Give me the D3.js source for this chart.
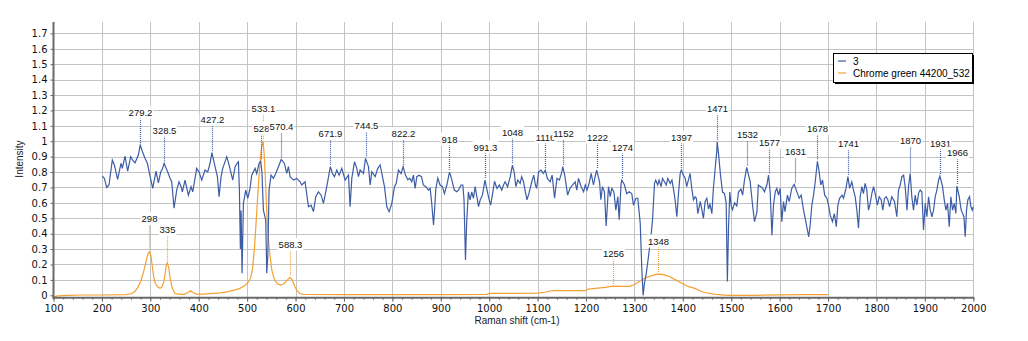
<!DOCTYPE html>
<html>
<head>
<meta charset="utf-8">
<script src="https://cdn.jsdelivr.net/npm/d3@7"></script>
<style>
  body { margin: 0; background: #fff; }
  svg { font-family: "Liberation Sans", Arial, sans-serif; }
</style>
</head>
<body>
<div id="chart"></div>
<script>
// Series 3 (blue): [Raman shift, intensity]
const seriesBlue = [
  [200.9,0.774],[205,0.76],[209.8,0.70],[214.6,0.716],[221.5,0.878],[225.7,0.846],[232.5,0.753],[239.4,0.857],
  [242.2,0.824],[247.7,0.904],[253.2,0.806],[259.4,0.90],[264,0.875],[268.4,0.86],[275.3,0.91],[279.2,0.975],
  [284,0.93],[289,0.89],[293.9,0.857],[299,0.78],[304.9,0.694],[311.8,0.806],[316.6,0.73],[321.4,0.80],
  [325,0.82],[328.5,0.857],[335.9,0.80],[340.7,0.76],[344.2,0.737],[349,0.565],[354.5,0.683],[359.3,0.737],
  [363.5,0.705],[366.2,0.672],[371.7,0.748],[378.6,0.65],[384.1,0.705],[387.6,0.672],[395.8,0.824],[400.7,0.80],
  [406.2,0.748],[413,0.813],[418.6,0.80],[423.4,0.857],[427.2,0.926],[433.7,0.835],[438.6,0.77],[442,0.64],
  [446.1,0.77],[449.6,0.824],[457.9,0.90],[462.7,0.846],[470.2,0.748],[475.1,0.835],[480,0.86],[482,0.867],
  [484,0.683],[486,0.3],[487.5,0.55],[489.5,0.143],[492.3,0.597],[497.1,0.683],[501.3,0.63],[506,0.694],
  [509.5,0.78],[516.4,0.824],[519.8,0.79],[524.6,0.856],[528,0.87],[530.5,0.80],[533.6,0.553],[538.4,0.489],
  [540.5,0.143],[542.6,0.251],[545.3,0.683],[549.4,0.78],[554.3,0.759],[559.1,0.791],[564.6,0.835],[570.4,0.882],
  [577,0.856],[581.8,0.791],[585.3,0.835],[588.7,0.77],[595.6,0.748],[602.5,0.759],[609.4,0.737],[612.8,0.716],
  [619.7,0.737],[626.6,0.575],[632.1,0.585],[636.9,0.543],[641.8,0.64],[647.3,0.672],[652.8,0.65],[657.6,0.597],
  [664.5,0.705],[671.9,0.835],[676.2,0.791],[680.4,0.77],[685.2,0.813],[690,0.78],[695.5,0.824],[702.4,0.748],
  [709.3,0.78],[712.7,0.575],[716.2,0.759],[721.7,0.867],[726.5,0.824],[730,0.77],[733.4,0.813],[740.3,0.791],
  [744.5,0.889],[750.6,0.835],[754.1,0.716],[757.5,0.802],[764.4,0.77],[769.9,0.824],[774.7,0.846],[778.2,0.791],
  [783.7,0.705],[788.5,0.575],[793.3,0.543],[798.9,0.597],[804.4,0.705],[808,0.727],[812.6,0.813],[818,0.79],
  [822.2,0.835],[827,0.78],[832,0.75],[836,0.76],[840,0.737],[843.5,0.78],[847,0.694],[850.5,0.77],
  [855.3,0.78],[860,0.77],[864,0.716],[869,0.705],[874.5,0.683],[878,0.694],[881,0.607],[885,0.456],
  [887.3,0.56],[889.7,0.69],[893.8,0.76],[898.5,0.716],[903.4,0.705],[907.5,0.66],[912.5,0.716],[918,0.80],
  [922,0.759],[928,0.683],[933,0.672],[936.5,0.683],[942,0.716],[945.5,0.716],[948,0.62],[951,0.229],
  [953.7,0.49],[957,0.672],[960.5,0.62],[964,0.672],[967.5,0.63],[971,0.705],[974.5,0.64],[978,0.575],
  [981.5,0.62],[986,0.65],[991.3,0.748],[995.5,0.683],[1000,0.62],[1003,0.585],[1007,0.66],[1011,0.74],
  [1016,0.694],[1021,0.716],[1026,0.683],[1029.5,0.716],[1033,0.737],[1038,0.705],[1043.5,0.77],[1048,0.845],
  [1052,0.791],[1055,0.705],[1059,0.748],[1064,0.727],[1067,0.77],[1071,0.737],[1074,0.683],[1078,0.62],
  [1082,0.66],[1088,0.737],[1092,0.78],[1095.5,0.716],[1098,0.694],[1102,0.80],[1107,0.813],[1112,0.791],
  [1116,0.813],[1120,0.759],[1126,0.737],[1130,0.78],[1135,0.63],[1140,0.759],[1145,0.748],[1150,0.80],
  [1152,0.835],[1156,0.78],[1162,0.65],[1167,0.694],[1172,0.716],[1177.5,0.737],[1181,0.683],[1184.4,0.759],
  [1190,0.705],[1195,0.672],[1198.5,0.716],[1202,0.683],[1206.4,0.727],[1210.6,0.791],[1215.4,0.716],[1218.8,0.77],
  [1222,0.813],[1228,0.737],[1230.6,0.62],[1234,0.705],[1238,0.672],[1241.6,0.45],[1246.4,0.705],[1250,0.64],
  [1253.3,0.694],[1257.5,0.672],[1261.6,0.553],[1265.7,0.64],[1268.5,0.49],[1272.5,0.727],[1274,0.748],[1279.5,0.716],
  [1284,0.66],[1289,0.672],[1294.5,0.66],[1298,0.585],[1303,0.63],[1307,0.63],[1312,0.467],[1315.3,0.164],
  [1318,0.0],[1320.7,0.08],[1324,0.132],[1329,0.25],[1334,0.38],[1337.4,0.49],[1341.5,0.727],[1344,0.748],
  [1348,0.716],[1351,0.748],[1355,0.705],[1358,0.759],[1362,0.737],[1365.6,0.716],[1369,0.759],[1374,0.727],
  [1377.5,0.748],[1381,0.683],[1384,0.62],[1387.6,0.51],[1391,0.66],[1394.5,0.791],[1397,0.813],[1401,0.78],
  [1405,0.759],[1408,0.705],[1411.5,0.748],[1415,0.791],[1418.5,0.694],[1422,0.62],[1425.4,0.64],[1428,0.63],
  [1431,0.53],[1436,0.61],[1439,0.56],[1442.6,0.50],[1446,0.61],[1449.5,0.63],[1453,0.56],[1456,0.59],
  [1460,0.53],[1463,0.69],[1466.7,0.82],[1470,0.93],[1471,0.997],[1474,0.91],[1477.8,0.78],[1482,0.67],
  [1486,0.66],[1489.5,0.60],[1492,0.089],[1494.3,0.43],[1497,0.67],[1500,0.58],[1502.6,0.555],[1507,0.6],
  [1511.5,0.58],[1515,0.67],[1520,0.69],[1523.5,0.65],[1527.4,0.75],[1532,0.83],[1535.7,0.78],[1539,0.74],
  [1544,0.586],[1548,0.478],[1553,0.54],[1556,0.716],[1561,0.705],[1565,0.694],[1568.7,0.672],[1573.5,0.716],
  [1577,0.78],[1580.4,0.672],[1584,0.39],[1587.3,0.586],[1591,0.673],[1594.2,0.694],[1597.6,0.65],[1601,0.694],
  [1604.5,0.478],[1608,0.608],[1611,0.543],[1616,0.65],[1619.7,0.608],[1625,0.694],[1630,0.72],[1635.5,0.673],
  [1640.3,0.63],[1644.4,0.65],[1649,0.56],[1654,0.478],[1660,0.38],[1663,0.455],[1666.5,0.586],[1670,0.65],
  [1673.5,0.737],[1678,0.87],[1681.7,0.80],[1685,0.716],[1688.6,0.748],[1693,0.65],[1697.6,0.63],[1701,0.586],
  [1704.5,0.52],[1709,0.478],[1713,0.53],[1717,0.445],[1720.3,0.586],[1723.8,0.63],[1729,0.65],[1732,0.63],
  [1737,0.694],[1741,0.77],[1744.5,0.694],[1749,0.737],[1752.5,0.683],[1756,0.64],[1759.4,0.553],[1762.9,0.435],
  [1766.3,0.64],[1769.8,0.705],[1773,0.66],[1776.6,0.727],[1780,0.683],[1783.5,0.553],[1787,0.597],[1790.4,0.66],
  [1793.9,0.705],[1797.3,0.66],[1802,0.585],[1805.6,0.64],[1809.7,0.62],[1813,0.553],[1816.6,0.629],[1820,0.64],
  [1823.5,0.62],[1827,0.575],[1831.8,0.64],[1837.3,0.608],[1842,0.51],[1845.5,0.683],[1849,0.716],[1852.5,0.77],
  [1856,0.78],[1859.3,0.705],[1863,0.553],[1866.2,0.705],[1869.6,0.791],[1873,0.64],[1876.5,0.553],[1880,0.65],
  [1883.4,0.586],[1886.9,0.662],[1890.3,0.683],[1893.7,0.672],[1897.2,0.424],[1900.7,0.597],[1904.1,0.51],[1907.6,0.64],
  [1911,0.553],[1914.5,0.51],[1918,0.553],[1921.3,0.64],[1924.8,0.683],[1928.2,0.748],[1931,0.774],[1936.5,0.705],
  [1940,0.62],[1943.4,0.553],[1946.8,0.597],[1950.3,0.445],[1953.7,0.64],[1957.2,0.553],[1960.6,0.597],[1964,0.532],
  [1966,0.71],[1970.9,0.64],[1975,0.553],[1977.8,0.532],[1980.6,0.51],[1983.3,0.38],[1986,0.553],[1988.8,0.62],
  [1992.3,0.64],[1995,0.575],[1997.8,0.553],[2000,0.575]
];

// Chrome green 44200_532 (orange)
const seriesOrange = [
  [100,-0.012],[108,-0.004],[130,0.0],[160,0.002],[200,0.002],[250,0.004],[262,0.012],[268,0.024],
  [274,0.05],[280,0.09],[285,0.14],[289,0.19],[293,0.245],[296,0.273],[298,0.283],[301,0.26],
  [304,0.19],[307,0.12],[310,0.08],[315,0.055],[320,0.045],[324,0.055],[328,0.09],[331,0.15],
  [333,0.195],[335,0.211],[338,0.18],[341,0.11],[345,0.05],[351,0.012],[360,0.006],[370,0.006],
  [378,0.018],[383,0.03],[388,0.018],[395,0.008],[410,0.008],[430,0.012],[445,0.016],[461,0.024],
  [475,0.035],[485,0.045],[495,0.062],[502,0.085],[507,0.11],[511,0.17],[515,0.3],[518,0.45],
  [521,0.6],[524,0.75],[527,0.88],[530,0.96],[533.1,1.0],[535,0.92],[537.5,0.77],[540,0.58],
  [542,0.45],[546,0.29],[551,0.165],[556,0.105],[562,0.075],[569,0.066],[576,0.075],[582,0.095],
  [588.3,0.117],[593,0.1],[598,0.06],[603,0.03],[609,0.012],[616,0.006],[700,0.005],[800,0.005],
  [900,0.005],[995,0.006],[1000,0.012],[1050,0.013],[1100,0.014],[1115,0.02],[1125,0.028],[1136,0.03],
  [1198,0.03],[1205,0.04],[1219,0.045],[1240,0.052],[1256,0.06],[1275,0.058],[1290,0.058],[1300,0.07],
  [1310,0.09],[1322,0.112],[1336,0.128],[1348,0.138],[1358,0.136],[1370,0.125],[1385,0.1],[1400,0.075],
  [1412,0.056],[1425,0.045],[1436,0.028],[1446,0.018],[1467,0.006],[1494,0.0],[1550,0.0],[1600,0.003],
  [1650,0.004],[1700,0.004]
];

// Labelled peaks
const peaksBlue = [279.2, 328.5, 427.2, 528, 570.4, 671.9, 744.5, 822.2, 918, 991.3, 1048, 1116, 1152,
  1222, 1274, 1397, 1471, 1532, 1577, 1631, 1678, 1741, 1870, 1931, 1966];
const peaksOrange = [298, 335, 533.1, 588.3, 1256, 1348];

const seriesNames = ["3", "Chrome green 44200_532"];
const xTicks = d3.range(100, 2001, 100);
const xMinorTicks = d3.range(100, 2001, 20);
const yTicks = d3.range(0, 18).map(i => +(i / 10).toFixed(1));

// Layout
const W = 1028, H = 341;
const plotL = 53.5, plotR = 973.3, plotT = 22, plotB = 297.7;
const blue = "#3d5da6", orange = "#f5a033";

const svg = d3.select("#chart").append("svg")
    .attr("width", W)
    .attr("height", H);

const x = d3.scaleLinear().domain([100, 2000]).range([plotL, plotR]);
const y = d3.scaleLinear().domain([-0.0155, 1.774]).range([plotB, plotT]);

// Grid
const grid = svg.append("g").attr("stroke", "#c4c4c4").attr("stroke-width", 1);
grid.selectAll("line.v")
    .data(xTicks.filter(d => d > 100))
    .enter().append("line")
    .attr("x1", d => Math.round(x(d)) + 0.5).attr("x2", d => Math.round(x(d)) + 0.5)
    .attr("y1", plotT).attr("y2", plotB);
grid.selectAll("line.h")
    .data(yTicks.filter(d => d > 0))
    .enter().append("line")
    .attr("x1", plotL).attr("x2", plotR)
    .attr("y1", d => Math.round(y(d)) + 0.5).attr("y2", d => Math.round(y(d)) + 0.5);

// Series lines
const line = d3.line().x(d => x(d[0])).y(d => y(d[1]));
svg.append("path").datum(seriesOrange)
    .attr("fill", "none").attr("stroke", orange).attr("stroke-width", 1.2).attr("d", line);
svg.append("path").datum(seriesBlue)
    .attr("fill", "none").attr("stroke", blue).attr("stroke-width", 1.2).attr("d", line);

// Axes
const xAxis = svg.append("g")
    .attr("transform", `translate(0,${plotB})`)
    .call(d3.axisBottom(x).tickValues(xTicks).tickSize(4).tickPadding(3).tickFormat(d3.format("d")));
svg.append("g")
    .attr("transform", `translate(0,${plotB})`)
    .call(d3.axisBottom(x).tickValues(xMinorTicks).tickSize(2).tickFormat(""))
    .call(g => g.select(".domain").remove())
    .selectAll("line").attr("stroke", "#666");
const yAxis = svg.append("g")
    .attr("transform", `translate(${plotL},0)`)
    .call(d3.axisLeft(y).tickValues(yTicks).tickSize(3).tickPadding(3).tickFormat(d3.format("~g")));

[xAxis, yAxis].forEach(g => {
    g.select(".domain").attr("stroke", "#6a6a6a").attr("stroke-width", 2);
    g.selectAll(".tick line").attr("stroke", "#666");
    g.selectAll(".tick text").attr("fill", "#111")
        .style("font-family", "'DejaVu Sans', sans-serif").style("font-size", "10px");
});
yAxis.select(".domain").attr("d", `M0,${plotT}V${plotB + 1}`);
xAxis.select(".domain").attr("d", `M${plotL - 1},0H${plotR + 1}`);

// Peak labels
function peakValue(series, p) {
    const near = series.filter(d => Math.abs(d[0] - p) <= 6);
    return d3.max(near, d => d[1]);
}
function drawPeaks(peaks, series, color) {
    peaks.forEach(p => {
        const py = y(peakValue(series, p));
        const px = Math.round(x(p)) + 0.5;
        svg.append("line")
            .attr("x1", px).attr("x2", px)
            .attr("y1", py - 27).attr("y2", py - 1)
            .attr("stroke", color).attr("stroke-width", 1.2)
            .attr("stroke-dasharray", "1,1");
        const g = svg.append("g");
        const rect = g.append("rect").attr("fill", "#fff");
        const t = g.append("text")
            .attr("x", px).attr("y", py - 33)
            .attr("text-anchor", "middle")
            .attr("dominant-baseline", "central")
            .attr("fill", "#111")
            .style("font-size", "9.5px")
            .text(p);
        const bb = t.node().getBBox();
        rect.attr("x", bb.x - 1).attr("y", bb.y - 1)
            .attr("width", bb.width + 2).attr("height", bb.height + 2);
    });
}
drawPeaks(peaksOrange, seriesOrange, orange);
drawPeaks(peaksBlue, seriesBlue, blue);

// Axis titles
svg.append("text")
    .attr("x", 517).attr("y", 320)
    .attr("text-anchor", "middle").attr("dominant-baseline", "central")
    .attr("fill", "#1a1a2e").style("font-size", "10px")
    .text("Raman shift (cm-1)");
svg.append("text")
    .attr("transform", "translate(19,159) rotate(-90)")
    .attr("text-anchor", "middle").attr("dominant-baseline", "central")
    .attr("fill", "#1a1a2e").style("font-size", "10px")
    .text("Intensity");

// Legend
const legend = svg.append("g").attr("transform", "translate(833,53)");
legend.append("rect").attr("x", 2).attr("y", 2).attr("width", 139).attr("height", 29).attr("fill", "#000");
legend.append("rect").attr("x", 0.5).attr("y", 0.5).attr("width", 139).attr("height", 29)
    .attr("fill", "#fff").attr("stroke", "#000");
[blue, orange].forEach((c, i) => {
    const ry = 8 + i * 12;
    legend.append("line").attr("x1", 5).attr("x2", 13).attr("y1", ry).attr("y2", ry)
        .attr("stroke", c).attr("stroke-width", 1.2);
    legend.append("text").attr("x", 20).attr("y", ry)
        .attr("dominant-baseline", "central")
        .attr("fill", "#000").style("font-size", "10px")
        .text(seriesNames[i]);
});
</script>
</body>
</html>
